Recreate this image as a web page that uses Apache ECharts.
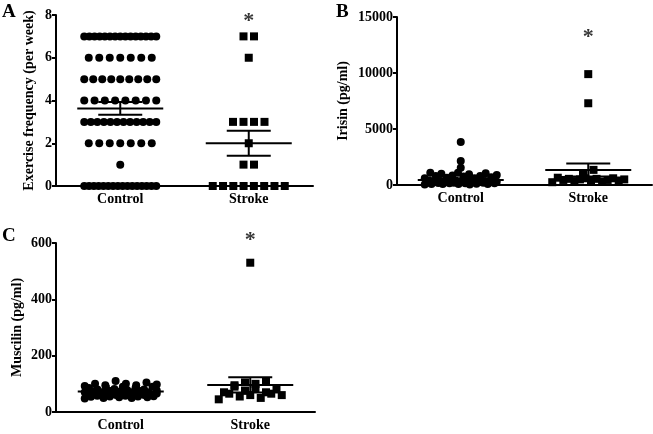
<!DOCTYPE html>
<html><head><meta charset="utf-8">
<script src="https://cdn.jsdelivr.net/npm/echarts@6/dist/echarts.min.js"></script>
<style>html,body{margin:0;padding:0;background:#fff}#c{width:653px;height:434px}</style>
</head><body><div id="c"></div>
<script>
// ---------- DATA ----------
const categories = ['Control', 'Stroke'];

// Panel A: Exercise frequency (per week)
const exerciseControl = [
  7,7,7,7,7,7,7,7,7,7,7,7,7,7,7,
  6,6,6,6,6,6,6,
  5,5,5,5,5,5,5,5,5,
  4,4,4,4,4,4,4,4,
  3,3,3,3,3,3,3,3,3,3,3,3,
  2,2,2,2,2,2,2,
  1,
  0,0,0,0,0,0,0,0,0,0,0,0,0,0,0,0
];
const exerciseStroke = [7,7,6,3,3,3,3,2,1,1,0,0,0,0,0,0,0,0];
const exerciseMean = [3.63, 2.0];
const exerciseSem = [0.30, 0.58];
const exerciseStar = 7.95;
const exerciseTicks = [0, 2, 4, 6, 8];

// Panel B: Irisin (pg/ml)
const irisinControl = [
  3850, 2150, 1550, 1100, 1100, 1050, 1000, 950, 900, 850, 800, 800, 750, 700,
  650, 600, 600, 550, 500, 500, 450, 450, 400, 400, 350, 350, 300, 300, 300,
  250, 250, 250, 200, 200, 200, 150, 150, 150, 100, 100, 100, 50, 50, 80, 120,
  180, 220, 280, 320, 380
];
const irisinStroke = [9900, 7300, 1350, 1000, 650, 600, 600, 550, 550, 500, 500, 450, 450, 400, 400, 350, 300, 250];
const irisinMean = [450, 1340];
const irisinSem = [110, 590];
const irisinStar = 13600;
const irisinTicks = [0, 5000, 10000, 15000];

// Panel C: Musclin (pg/ml)
const musclinControl = [
  110, 105, 100, 100, 98, 95, 95, 92, 90, 90, 88, 85, 85, 82, 80, 80, 78, 76,
  75, 75, 74, 72, 70, 70, 70, 68, 68, 66, 65, 65, 64, 62, 62, 60, 60, 60, 58,
  58, 56, 55, 55, 54, 52, 52, 50, 50, 48, 60, 65, 70
];
const musclinStroke = [530, 110, 105, 100, 95, 90, 85, 80, 75, 70, 70, 65, 65, 60, 60, 55, 50, 45];
const musclinMean = [73, 96];
const musclinSem = [3, 27];
const musclinStar = 600;
const musclinTicks = [0, 200, 400, 600];

// ---------- LAYOUT ----------
const FONT = 'Liberation Serif';
const panels = [
  { letter: 'A', lx: 2, ly: 3, grid: { left: 56, top: 15, width: 257, height: 171 },
    ticks: exerciseTicks, name: 'Exercise frequency (per week)', nameGap: 20,
    ctrl: exerciseControl, strk: exerciseStroke, mean: exerciseMean, sem: exerciseSem,
    star: exerciseStar, starOff: 5 },
  { letter: 'B', lx: 336, ly: 3, grid: { left: 397, top: 17, width: 255, height: 168 },
    ticks: irisinTicks, name: 'Irisin (pg/ml)', nameGap: 47,
    ctrl: irisinControl, strk: irisinStroke, mean: irisinMean, sem: irisinSem,
    star: irisinStar, starOff: 5 },
  { letter: 'C', lx: 2, ly: 227, grid: { left: 56, top: 243, width: 259, height: 169 },
    ticks: musclinTicks, name: 'Muscilin (pg/ml)', nameGap: 32,
    ctrl: musclinControl, strk: musclinStroke, mean: musclinMean, sem: musclinSem,
    star: musclinStar, starOff: -3 }
];

// spread points of (nearly) equal value horizontally, GraphPad-style rows
function spread(values, catIdx, gw, gh, yMax) {
  const pxPerUnit = gh / yMax;
  const sorted = values.slice().sort((a, b) => a - b);
  const bins = [];
  let cur = null;
  sorted.forEach(v => {
    if (!cur || (v - cur.start) * pxPerUnit > 6) { cur = { start: v, items: [] }; bins.push(cur); }
    cur.items.push(v);
  });
  const pts = [];
  bins.forEach(b => {
    const n = b.items.length;
    const sp = n > 1 ? Math.min(10.5, 72 / (n - 1)) : 0;
    // deterministic well-mixed ordering inside a row
    const idx = b.items.map((v, i) => ({ v: v, key: (i * 0.6180339887) % 1 }));
    idx.sort((a, c) => a.key - c.key);
    idx.forEach((o, i) => {
      const off = (i - (n - 1) / 2) * sp;
      pts.push([catIdx + 0.5 + off * 2 / gw, o.v]);
    });
  });
  return pts;
}

const textBase = { color: '#000', fontFamily: FONT, fontWeight: 'bold' };
const option = { animation: false, backgroundColor: '#fff', grid: [], xAxis: [], yAxis: [], series: [], graphic: [] };

panels.forEach((p, k) => {
  const yMax = p.ticks[p.ticks.length - 1];
  const interval = p.ticks[1] - p.ticks[0];
  option.grid.push(Object.assign({ containLabel: false }, p.grid));
  option.xAxis.push({
    type: 'category', gridIndex: k, data: categories, boundaryGap: true,
    axisLine: { lineStyle: { color: '#000', width: 2 } },
    axisTick: { alignWithLabel: true, length: 4, lineStyle: { color: '#000', width: 2 } },
    axisLabel: Object.assign({ fontSize: 14, margin: 6 }, textBase),
    splitLine: { show: false }
  });
  option.xAxis.push({ type: 'value', gridIndex: k, min: 0, max: 2, show: false });
  option.yAxis.push({
    type: 'value', gridIndex: k, min: p.ticks[0], max: yMax, interval: interval,
    axisLine: { show: true, lineStyle: { color: '#000', width: 2 } },
    axisTick: { show: true, length: 4, lineStyle: { color: '#000', width: 2 } },
    axisLabel: Object.assign({ fontSize: 14, margin: 4, formatter: v => String(v) }, textBase),
    splitLine: { show: false },
    name: p.name, nameLocation: 'middle', nameRotate: 90, nameGap: p.nameGap,
    nameTextStyle: Object.assign({ fontSize: 14 }, textBase)
  });
  const xi = 2 * k + 1;
  option.series.push({
    type: 'scatter', xAxisIndex: xi, yAxisIndex: k, symbol: 'circle', symbolSize: 8,
    itemStyle: { color: '#000', opacity: 1 }, data: spread(p.ctrl, 0, p.grid.width, p.grid.height, yMax)
  });
  option.series.push({
    type: 'scatter', xAxisIndex: xi, yAxisIndex: k, symbol: 'rect', symbolSize: 8,
    itemStyle: { color: '#000', opacity: 1 }, data: spread(p.strk, 1, p.grid.width, p.grid.height, yMax)
  });
  option.series.push({
    type: 'custom', xAxisIndex: xi, yAxisIndex: k, z: 5,
    data: [[0.5, p.mean[0], p.sem[0]], [1.5, p.mean[1], p.sem[1]]],
    renderItem: function (params, api) {
      const x = api.value(0), m = api.value(1), s = api.value(2);
      const c = api.coord([x, m]), up = api.coord([x, m + s]), lo = api.coord([x, m - s]);
      const st = { stroke: '#000', lineWidth: 2 };
      return { type: 'group', children: [
        { type: 'line', shape: { x1: c[0] - 43, y1: c[1], x2: c[0] + 43, y2: c[1] }, style: st },
        { type: 'line', shape: { x1: c[0], y1: up[1], x2: c[0], y2: lo[1] }, style: st },
        { type: 'line', shape: { x1: c[0] - 22, y1: up[1], x2: c[0] + 22, y2: up[1] }, style: st },
        { type: 'line', shape: { x1: c[0] - 22, y1: lo[1], x2: c[0] + 22, y2: lo[1] }, style: st }
      ] };
    }
  });
  option.series.push({
    type: 'scatter', xAxisIndex: xi, yAxisIndex: k, symbolSize: 1, clip: false,
    itemStyle: { color: 'rgba(0,0,0,0)' }, data: [[1.5, p.star]],
    label: Object.assign({ show: true, formatter: '*', position: 'inside', fontSize: 22, offset: [0, p.starOff] }, textBase)
  });
  option.graphic.push({
    type: 'text', left: p.lx, top: p.ly,
    style: { text: p.letter, fill: '#000', font: 'bold 19px "Liberation Serif"' }
  });
});

const chart = echarts.init(document.getElementById('c'), null, { renderer: 'canvas' });
chart.setOption(option);
</script>
</body></html>
